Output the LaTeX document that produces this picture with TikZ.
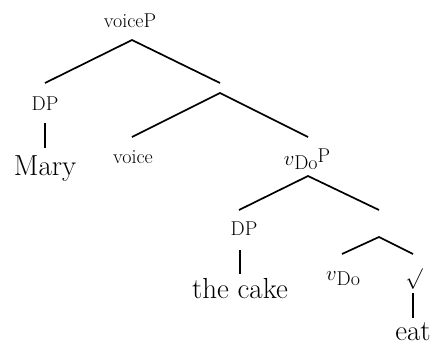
\documentclass[tikz,border=0pt]{standalone}
\begin{document}
\begin{tikzpicture}[x=1pt,y=-1pt,
  lbl/.style={font=\fontsize{20}{22}\selectfont, inner sep=0pt, anchor=base},
  word/.style={font=\fontsize{29}{32}\selectfont, inner sep=0pt, anchor=base},
  branch/.style={line width=1.7pt}]
\useasboundingbox (0,0) rectangle (434,346);
% labelled nodes
\node[lbl] (voiceP) at (130,27) {voiceP};
\node[lbl] (DP1) at (45,110) {DP};
\node[word] (Mary) at (45,175) {Mary};
\node[lbl] (voice) at (133,163) {voice};
\node[lbl] (vDoP) at (307,165) {$v$\raisebox{-4pt}{Do}\raisebox{3pt}{P}};
\node[lbl] (DP2) at (244,235) {DP};
\node[word] (cake) at (240,298) {the cake};
\node[lbl] (vDo) at (343,280) {$v$\raisebox{-5pt}{Do}};
\node[lbl] (root) at (414,284) {$\surd$};
\node[word] (eat) at (413,340) {eat};
% connector ends
\coordinate (voiceP-b) at (132,40);
\coordinate (DP1-t) at (45,83);
\coordinate (bar1-t) at (220,83);
\coordinate (bar1-b) at (220,93);
\coordinate (voice-t) at (132,137);
\coordinate (vDoP-t) at (308,137);
\coordinate (vDoP-b) at (308,176);
\coordinate (DP2-t) at (239,210);
\coordinate (bar2-t) at (379,210);
\coordinate (bar2-b) at (379,237);
\coordinate (vDo-t) at (342,254);
\coordinate (root-t) at (413,254);
\coordinate (DP1-b) at (45,123);
\coordinate (Mary-t) at (45,148);
\coordinate (DP2-b) at (240,250);
\coordinate (cake-t) at (240,274);
\coordinate (root-b) at (413,293);
\coordinate (eat-t) at (413,318);
% branches
\draw[branch] (DP1-t) -- (voiceP-b) -- (bar1-t);
\draw[branch] (voice-t) -- (bar1-b) -- (vDoP-t);
\draw[branch] (DP2-t) -- (vDoP-b) -- (bar2-t);
\draw[branch] (vDo-t) -- (bar2-b) -- (root-t);
\draw[branch] (DP1-b) -- (Mary-t);
\draw[branch] (DP2-b) -- (cake-t);
\draw[branch] (root-b) -- (eat-t);
\end{tikzpicture}
\end{document}
